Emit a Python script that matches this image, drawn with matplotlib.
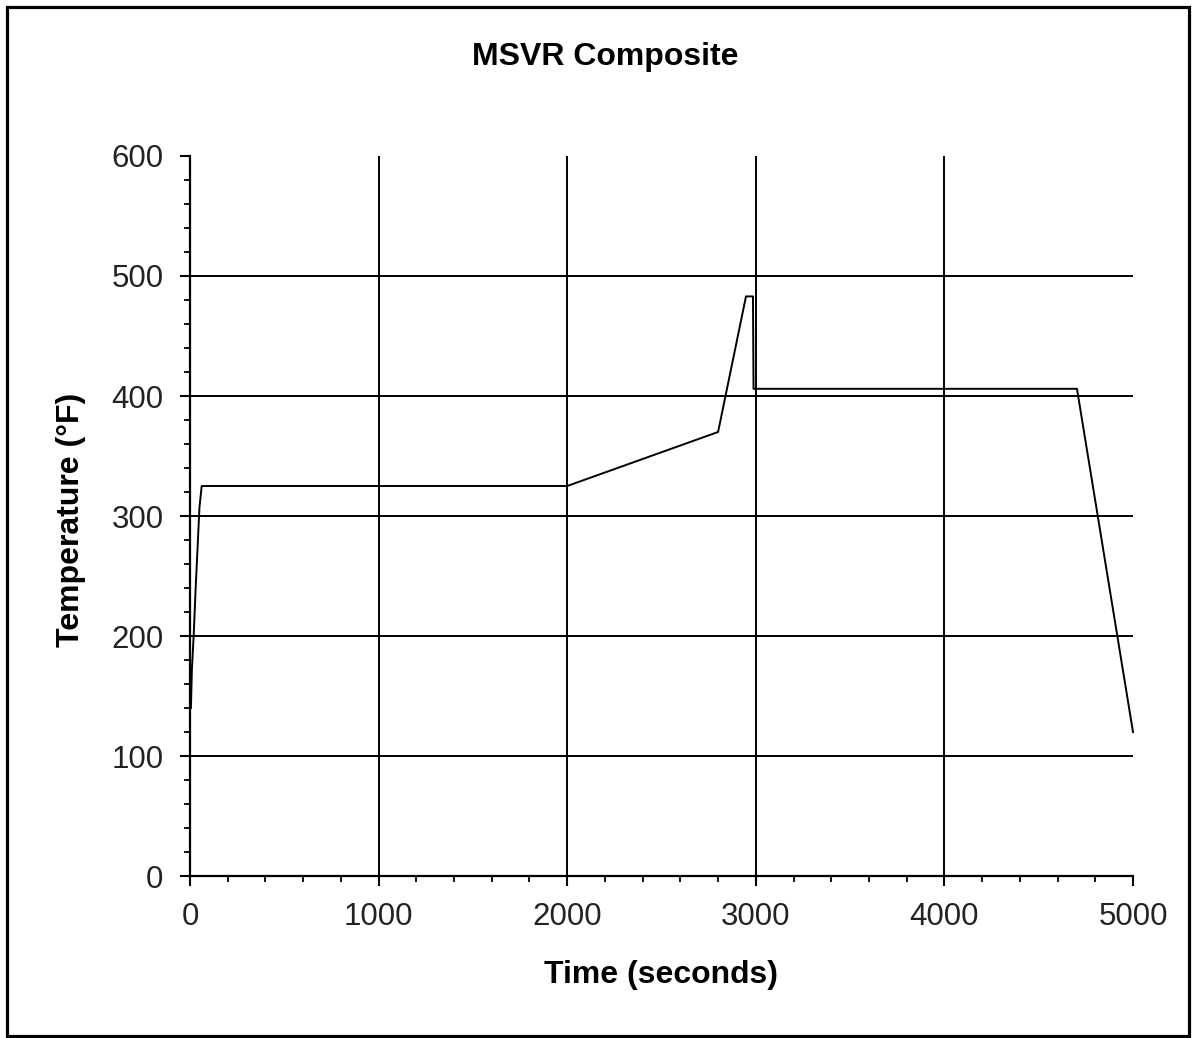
import matplotlib
matplotlib.use("Agg")
import matplotlib.pyplot as plt
from matplotlib.patches import Rectangle
from matplotlib.ticker import MultipleLocator

# profile
time_s = [5, 10, 20, 30, 40, 50, 62, 2000, 2800, 2948, 2985, 2988, 4703, 5000]
temp_f = [140, 172, 202, 240, 273, 307, 325, 325, 370, 483, 483, 406, 406, 120]

x_ticks = [0, 1000, 2000, 3000, 4000, 5000]
y_ticks = [0, 100, 200, 300, 400, 500, 600]

plt.rcParams['font.family'] = ['Liberation Sans', 'DejaVu Sans']

W, H = 1192, 1038
fig = plt.figure(figsize=(W / 100, H / 100), dpi=100)
ax = fig.add_axes([190 / W, 1 - 876 / H, (1133 - 190) / W, (876 - 156) / H])

ax.plot(time_s, temp_f, color='black', lw=1.4, clip_on=False, zorder=3)

ax.set_xlim(0, 5000)
ax.set_ylim(0, 600)
ax.set_xticks(x_ticks)
ax.set_yticks(y_ticks)
ax.xaxis.set_minor_locator(MultipleLocator(200))
ax.yaxis.set_minor_locator(MultipleLocator(20))

ax.grid(True, which='major', color='black', lw=1.4)
# no grid lines on the outer edges
for t, gl in zip(x_ticks, ax.get_xgridlines()):
    if t in (0, 5000):
        gl.set_visible(False)
for t, gl in zip(y_ticks, ax.get_ygridlines()):
    if t in (0, 600):
        gl.set_visible(False)
ax.set_axisbelow(True)

for side in ('top', 'right'):
    ax.spines[side].set_visible(False)
for side in ('left', 'bottom'):
    ax.spines[side].set_linewidth(1.6)

ax.tick_params(which='major', direction='out', length=7, width=1.5,
               labelsize=22.5, labelcolor='#222222', pad=12)
ax.tick_params(which='minor', direction='out', length=4.5, width=1.3)
ax.tick_params(axis='x', which='major', pad=12)

fig.text(605 / W, 1 - 57 / H, 'MSVR Composite', ha='center', va='center',
         fontsize=23, fontweight='bold')
fig.text(661 / W, 1 - 975 / H, 'Time (seconds)', ha='center', va='center',
         fontsize=23, fontweight='bold')
fig.text(71 / W, 1 - 520 / H, 'Temperature (°F)', ha='center', va='center',
         fontsize=23, fontweight='bold', rotation=90)

fig.patches.append(Rectangle((7.5 / W, 1 - 1036 / H), (1189 - 7.5) / W, (1036 - 7) / H,
                             transform=fig.transFigure, fill=False,
                             edgecolor='black', lw=2.3))

fig.savefig('out.png', dpi=100)
